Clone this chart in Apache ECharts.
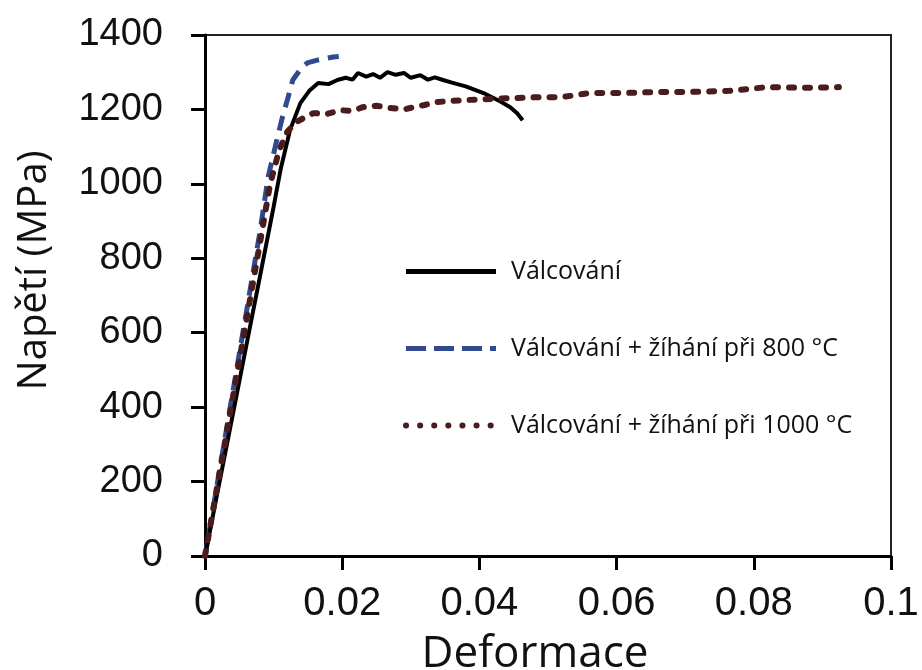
<!DOCTYPE html>
<html>
<head>
<meta charset="utf-8">
<script src="https://cdn.jsdelivr.net/npm/echarts@6/dist/echarts.min.js"></script>
<style>
  html, body { margin: 0; padding: 0; background: #fff; }
  #main { width: 922px; height: 670px; }
</style>
</head>
<body>
<div id="main"></div>
<script>
// Válcování
const rolledStrain = [0, 0.002, 0.004, 0.006, 0.008, 0.010, 0.011, 0.0124, 0.0139, 0.0152, 0.0165, 0.0180, 0.0193, 0.0205, 0.0215, 0.0223, 0.0235, 0.0245, 0.0255, 0.0266, 0.0278, 0.029, 0.030, 0.0314, 0.0325, 0.0335, 0.0347, 0.036, 0.038, 0.0406, 0.043, 0.0445, 0.0455, 0.0463];
const rolledStress = [0, 188, 375, 563, 750, 938, 1037, 1145, 1217, 1250, 1271, 1268, 1279, 1285, 1280, 1298, 1288, 1295, 1285, 1300, 1293, 1298, 1285, 1292, 1280, 1286, 1279, 1272, 1262, 1244, 1222, 1206, 1190, 1171];
// + žíhání při 800 °C
const a800Strain = [0, 0.002, 0.004, 0.006, 0.008, 0.0092, 0.0105, 0.0113, 0.0120, 0.0128, 0.0138, 0.0149, 0.0165, 0.0187, 0.0195];
const a800Stress = [0, 217, 435, 652, 870, 1018, 1120, 1180, 1225, 1279, 1305, 1325, 1333, 1341, 1342];
// + žíhání při 1000 °C
const a1000Strain = [0, 0.002, 0.004, 0.006, 0.008, 0.0095, 0.0108, 0.012, 0.0132, 0.0145, 0.0158, 0.0178, 0.0197, 0.0215, 0.023, 0.025, 0.027, 0.029, 0.0304, 0.032, 0.0339, 0.0377, 0.0416, 0.0455, 0.0489, 0.052, 0.056, 0.0606, 0.066, 0.0708, 0.0764, 0.082, 0.0879, 0.0924];
const a1000Stress = [0, 210, 420, 630, 840, 1000, 1090, 1140, 1165, 1178, 1190, 1188, 1198, 1196, 1206, 1210, 1204, 1200, 1206, 1212, 1220, 1225, 1228, 1231, 1233, 1233, 1244, 1244, 1247, 1247, 1250, 1260, 1258, 1260];

const seriesNames = ["Válcování", "Válcování + žíhání při 800 °C", "Válcování + žíhání při 1000 °C"];

const zip = (xs, ys) => xs.map((x, i) => [x, ys[i]]);

const chart = echarts.init(document.getElementById("main"));

const option = {
  backgroundColor: "#fff",
  animation: false,
  grid: {
    left: 205, right: 31, top: 35, bottom: 114,
    containLabel: false,
    outerBoundsMode: "none",
    show: true, borderColor: "#222", borderWidth: 2
  },
  legend: {
    orient: "vertical",
    left: 398, top: 254,
    itemWidth: 90, itemHeight: 14,
    itemGap: 52,
    itemStyle: { opacity: 0 },
    data: [
      { name: seriesNames[0], lineStyle: { color: "#000", width: 5, type: "solid" } },
      { name: seriesNames[1], lineStyle: { color: "#2f4a8e", width: 5, type: [20, 8] } },
      { name: seriesNames[2], lineStyle: { color: "#4a1c1c", width: 6, type: [0.1, 14], cap: "round" } }
    ],
    textStyle: { fontFamily: "Open Sans", fontSize: 25, color: "#111", padding: [0, 0, 0, 10] }
  },
  xAxis: {
    type: "value",
    min: 0, max: 0.1, interval: 0.02,
    name: "Deformace",
    nameLocation: "middle",
    nameGap: 76,
    nameTextStyle: { fontFamily: "Open Sans", fontSize: 44, color: "#111", padding: [0, 26, 0, 0] },
    axisLine: { show: true, lineStyle: { color: "#000", width: 3 } },
    axisTick: { show: true, inside: false, length: 14, lineStyle: { color: "#000", width: 3 } },
    axisLabel: { fontFamily: "Liberation Sans", fontSize: 40, color: "#111", margin: 28, formatter: v => String(v) },
    splitLine: { show: false }
  },
  yAxis: {
    type: "value",
    min: 0, max: 1400, interval: 200,
    name: "Napětí (MPa)",
    nameLocation: "middle",
    nameRotate: 90,
    nameGap: 150,
    nameTextStyle: { fontFamily: "Open Sans", fontSize: 40, color: "#111", padding: [0, 0, 0, 50] },
    axisLine: { show: true, lineStyle: { color: "#000", width: 3 } },
    axisTick: { show: true, inside: false, length: 14, lineStyle: { color: "#000", width: 3 } },
    axisLabel: { fontFamily: "Liberation Sans", fontSize: 38, color: "#111", margin: 42, formatter: v => String(v) },
    splitLine: { show: false }
  },
  series: [
    {
      name: seriesNames[0], type: "line", symbol: "none", z: 3,
      data: zip(rolledStrain, rolledStress),
      itemStyle: { color: "#000" },
      lineStyle: { color: "#000", width: 4 }
    },
    {
      name: seriesNames[1], type: "line", symbol: "none", z: 2,
      data: zip(a800Strain, a800Stress),
      itemStyle: { color: "#2f4a8e" },
      lineStyle: { color: "#2f4a8e", width: 5, type: [15, 9] }
    },
    {
      name: seriesNames[2], type: "line", symbol: "none", z: 4,
      data: zip(a1000Strain, a1000Stress),
      itemStyle: { color: "#4a1c1c" },
      lineStyle: { color: "#4a1c1c", width: 6, type: [5, 11], cap: "round" }
    }
  ]
};

chart.setOption(option);
</script>
</body>
</html>
